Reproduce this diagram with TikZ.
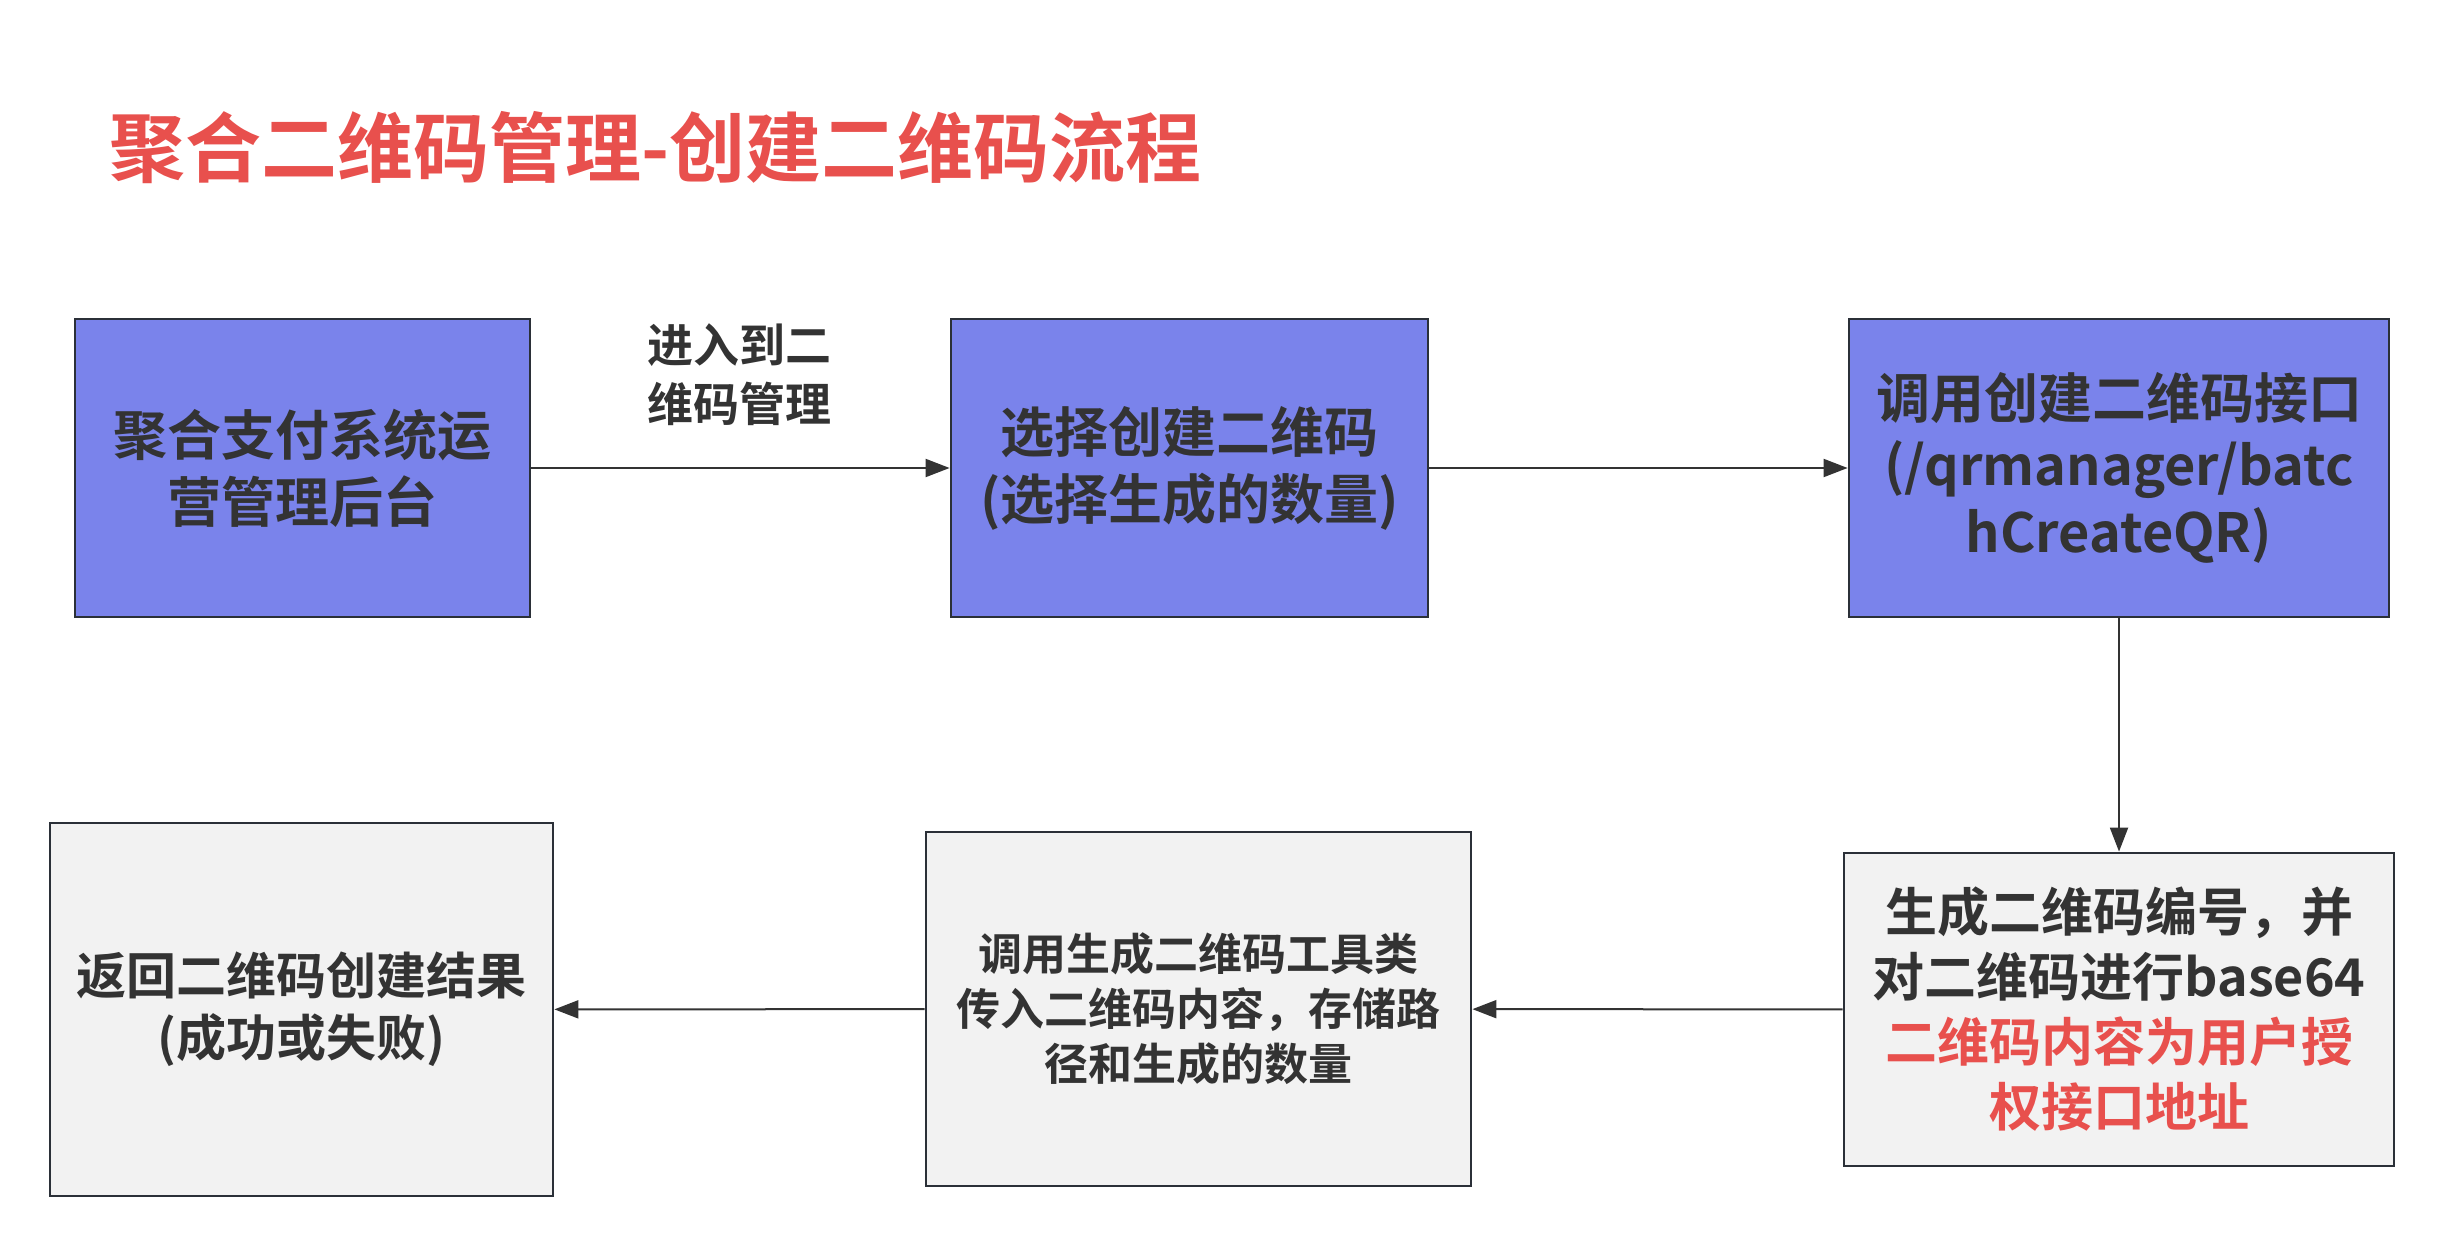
\documentclass[tikz,border=0pt]{standalone}
\usepackage{fontspec}
\setmainfont{Noto Sans CJK SC Bold}
\usetikzlibrary{arrows.meta}
\definecolor{boxblue}{HTML}{7A83EB}
\definecolor{boxgrey}{HTML}{F2F2F2}
\definecolor{edge}{HTML}{2B3038}
\definecolor{txt}{HTML}{333333}
\definecolor{titlered}{HTML}{E8504D}
\tikzset{
  x=0.5pt, y=-0.5pt,
  box/.style={draw=edge, line width=1.4pt, rectangle, align=center, text=txt, inner sep=0pt},
  bluebox/.style={box, fill=boxblue},
  greybox/.style={box, fill=boxgrey},
  conn/.style={draw=txt, line width=1pt, -{Triangle[length=12pt,width=9pt]}},
}
\begin{document}
\begin{tikzpicture}
\useasboundingbox (0,0) rectangle (2444,1245);
\node[anchor=west, text=titlered, font=\fontsize{38pt}{46pt}\selectfont, inner sep=0pt] (title) at (109,148) {聚合二维码管理-创建二维码流程};

\node[bluebox, minimum width=227.5pt, minimum height=149pt, font=\fontsize{27pt}{33.5pt}\selectfont] (b1) at (302.5,468) {聚合支付系统运\\营管理后台};
\node[bluebox, minimum width=238.5pt, minimum height=149pt, font=\fontsize{27pt}{33.5pt}\selectfont] (b2) at (1189.5,468) {选择创建二维码\\(选择生成的数量)};
\node[bluebox, minimum width=270pt, minimum height=149pt, font=\fontsize{27pt}{33.5pt}\selectfont] (b3) at (2119,468) {调用创建二维码接口\\(/qrmanager/batc\\hCreateQR)};
\node[greybox, minimum width=275pt, minimum height=156.5pt, font=\fontsize{26pt}{32.5pt}\selectfont] (b4) at (2119,1009.5) {生成二维码编号，并\\对二维码进行base64\\\textcolor{titlered}{二维码内容为用户授}\\\textcolor{titlered}{权接口地址}};
\node[greybox, minimum width=272.5pt, minimum height=177pt, font=\fontsize{22pt}{27.5pt}\selectfont] (b5) at (1198.5,1009) {调用生成二维码工具类\\传入二维码内容，存储路\\径和生成的数量};
\node[greybox, minimum width=251.5pt, minimum height=186.5pt, font=\fontsize{25pt}{31pt}\selectfont] (b6) at (301.5,1009.5) {返回二维码创建结果\\(成功或失败)};

\node[align=left, text=txt, font=\fontsize{23pt}{29.5pt}\selectfont, inner sep=0pt] (lbl) at (739,375) {进入到二\\维码管理};

\draw[conn] (b1) -- (b2);
\draw[conn] (b2) -- (b3);
\draw[conn] (b3) -- (b4);
\draw[conn] (b4) -- (b5);
\draw[conn] (b5) -- (b6);
\end{tikzpicture}
\end{document}
